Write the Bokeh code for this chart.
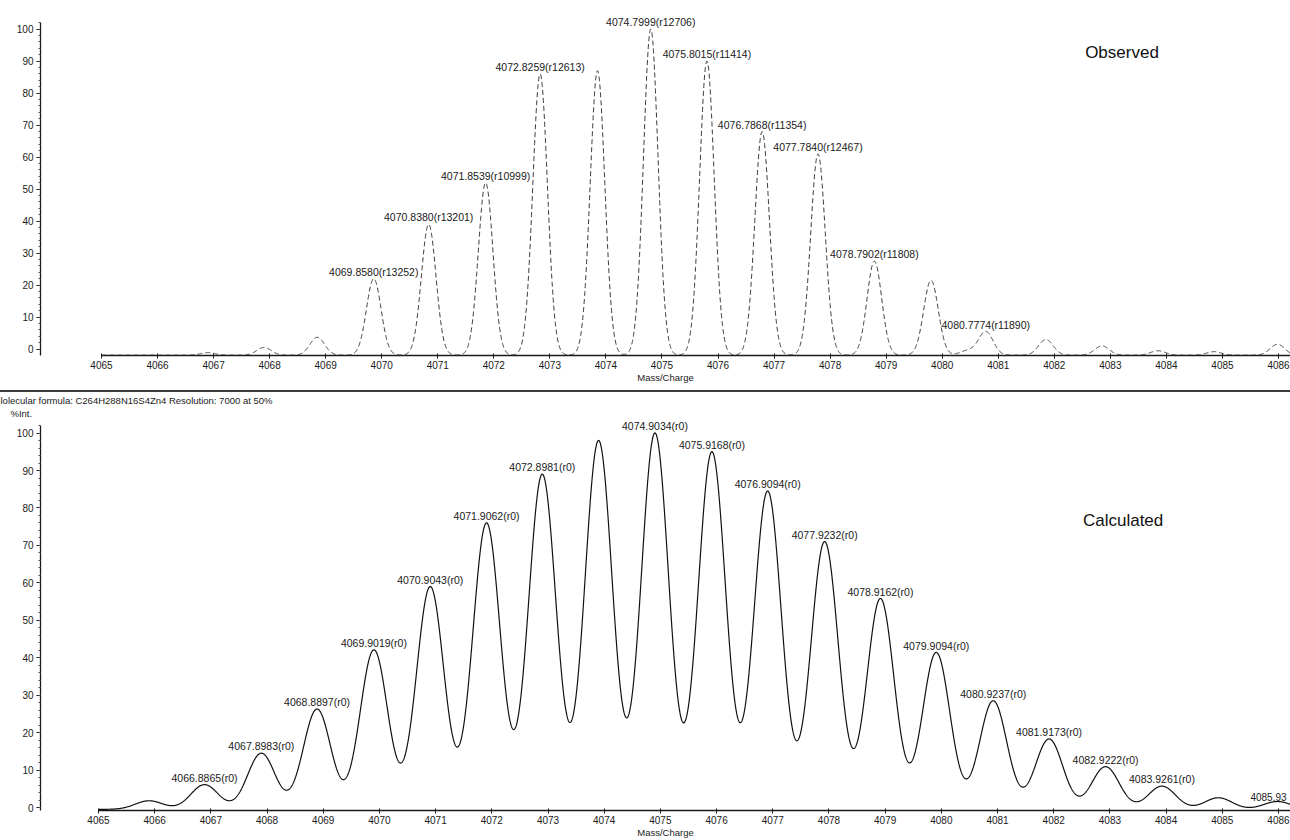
import numpy as np
from bokeh.plotting import figure
from bokeh.models import ColumnDataSource, FixedTicker, Range1d, Title, Div
from bokeh.layouts import column
from bokeh.core.properties import value
from bokeh.embed import file_html
from bokeh.resources import INLINE

# ---------------- data ----------------
# Observed spectrum: peak centres (m/z) and apex intensities (%)
obs_centers = [4066.90, 4067.90, 4068.85, 4069.858, 4070.838, 4071.854, 4072.826,
               4073.85, 4074.800, 4075.802, 4076.787, 4077.784, 4078.790, 4079.80,
               4080.45, 4080.777, 4081.85, 4082.85, 4083.85, 4084.85, 4085.98]
obs_apex = [-1.1, 0.5, 3.7, 22.0, 39.0, 52.0, 86.0,
            87.0, 100.0, 90.0, 68.0, 61.0, 27.5, 21.5,
            -0.5, 5.5, 3.0, 1.0, -0.5, -0.8, 1.5]
obs_label_text = ["4069.8580(r13252)", "4070.8380(r13201)", "4071.8539(r10999)",
                  "4072.8259(r12613)", "4074.7999(r12706)", "4075.8015(r11414)",
                  "4076.7868(r11354)", "4077.7840(r12467)", "4078.7902(r11808)",
                  "4080.7774(r11890)"]
obs_label_x = [4069.858, 4070.838, 4071.854, 4072.826, 4074.800, 4075.802,
               4076.787, 4077.784, 4078.790, 4080.777]
obs_label_y = [22.0, 39.0, 52.0, 86.0, 100.0, 90.0, 68.0, 61.0, 27.5, 5.5]

# Calculated spectrum
calc_centers = [4065.90, 4066.8865, 4067.8983, 4068.8897, 4069.9019, 4070.9043,
                4071.9062, 4072.8981, 4073.90, 4074.9034, 4075.9168, 4076.9094,
                4077.9232, 4078.9162, 4079.9094, 4080.9237, 4081.9173, 4082.9222,
                4083.9261, 4084.93, 4085.98]
calc_apex = [1.8, 6.1, 14.5, 26.3, 42.1, 59.0,
             76.0, 89.0, 98.0, 100.0, 95.0, 84.5,
             71.0, 55.8, 41.4, 28.5, 18.3, 10.9,
             5.7, 2.6, 1.6]
calc_label_text = ["4066.8865(r0)", "4067.8983(r0)", "4068.8897(r0)", "4069.9019(r0)",
                   "4070.9043(r0)", "4071.9062(r0)", "4072.8981(r0)", "4074.9034(r0)",
                   "4075.9168(r0)", "4076.9094(r0)", "4077.9232(r0)", "4078.9162(r0)",
                   "4079.9094(r0)", "4080.9237(r0)", "4081.9173(r0)", "4082.9222(r0)",
                   "4083.9261(r0)"]
calc_label_x = [4066.8865, 4067.8983, 4068.8897, 4069.9019, 4070.9043, 4071.9062,
                4072.8981, 4074.9034, 4075.9168, 4076.9094, 4077.9232, 4078.9162,
                4079.9094, 4080.9237, 4081.9173, 4082.9222, 4083.9261]
calc_label_y = [6.1, 14.5, 26.3, 42.1, 59.0, 76.0, 89.0, 100.0, 95.0, 84.5, 71.0,
                55.8, 41.4, 28.5, 18.3, 10.9, 5.7]
edge_label_text = ["4085.93"]
edge_label_x = [4085.50]
edge_label_y = [1.6]

x_ticks = list(range(4065, 4087))
y_ticks = list(range(0, 101, 10))
y_minor = list(range(0, 103, 2))

header_text = "lolecular formula: C264H288N16S4Zn4  Resolution: 7000 at 50%"
yunit_text = "%Int."

OBS_BASE = -1.9
CALC_BASE = -0.5
OBS_SIGMA = 0.13
CALC_SIGMA = 0.245

FONT = "Liberation Sans"
INK = "#1a1a1a"
W = 1290


def profile(centers, apex, base, sigma, x):
    y = np.full_like(x, base)
    for c, a in zip(centers, apex):
        y = y + (a - base) * np.exp(-0.5 * ((x - c) / sigma) ** 2)
    return y


def make_fig(height, xr, yr, ytop, top, bottom):
    p = figure(width=W, height=height, x_range=Range1d(*xr), y_range=Range1d(*yr),
               output_backend="svg", toolbar_location=None,
               min_border_left=40, min_border_right=0,
               min_border_top=top, min_border_bottom=bottom)
    p.outline_line_color = None
    p.grid.visible = False
    p.background_fill_color = "white"
    p.border_fill_color = "white"

    xa = p.xaxis[0]
    xa.ticker = FixedTicker(ticks=x_ticks, minor_ticks=[])
    xa.bounds = (4065, xr[1])
    xa.axis_line_color = INK
    xa.axis_line_width = 1.3
    xa.major_tick_in = 2
    xa.major_tick_out = 3
    xa.major_tick_line_color = INK
    xa.major_label_standoff = 2
    xa.major_label_text_font = FONT
    xa.major_label_text_font_size = "10px"
    xa.major_label_text_color = INK
    xa.axis_label = "Mass/Charge"
    xa.axis_label_text_font = FONT
    xa.axis_label_text_font_size = "9.5px"
    xa.axis_label_text_font_style = "normal"
    xa.axis_label_text_color = INK
    xa.axis_label_standoff = 0

    ya = p.yaxis[0]
    ya.ticker = FixedTicker(ticks=y_ticks, minor_ticks=y_minor)
    ya.bounds = (yr[0], ytop)
    ya.axis_line_color = INK
    ya.axis_line_width = 1.3
    ya.major_tick_in = 0
    ya.major_tick_out = 4
    ya.major_tick_line_color = INK
    ya.minor_tick_in = 0
    ya.minor_tick_out = 2
    ya.minor_tick_line_color = "#555555"
    ya.major_label_standoff = 3
    ya.major_label_text_font = FONT
    ya.major_label_text_font_size = "10px"
    ya.major_label_text_color = INK
    return p


# ---------------- top panel: observed ----------------
top_xr = (4063.912, 4086.214)
top = make_fig(390, top_xr, (-2.0, 105.5), 102.0, 11, 35)
x_obs = np.arange(4065.0, top_xr[1], 0.004)
y_obs = profile(obs_centers, obs_apex, OBS_BASE, OBS_SIGMA, x_obs)
top.line(x_obs, y_obs, line_color="#3a3a3a", line_width=1, line_dash="5 3")
top.text(x="x", y="y", text="t",
         source=ColumnDataSource(dict(x=obs_label_x, y=obs_label_y, t=obs_label_text)),
         text_font=value(FONT), text_font_size="10.5px", text_color=INK,
         text_align="center", text_baseline="bottom", y_offset=-1)
top.text(x=[4082.55], y=[92.8], text=["Observed"], text_font=value(FONT),
         text_font_size="17px", text_color="#111111",
         text_align="left", text_baseline="middle")

# ---------------- separator ----------------
sep = Div(text="", width=W, height=2, margin=0,
          styles={"background-color": "#3c3c3c"})

# ---------------- bottom panel: calculated ----------------
bot_xr = (4063.968, 4086.214)
bot = make_fig(448, bot_xr, (-0.8, 103.9), 102.0, 22, 28)
x_calc = np.arange(4065.0, bot_xr[1], 0.004)
y_calc = profile(calc_centers, calc_apex, CALC_BASE, CALC_SIGMA, x_calc)
bot.line(x_calc, y_calc, line_color="#111111", line_width=1.2)
bot.text(x="x", y="y", text="t",
         source=ColumnDataSource(dict(x=calc_label_x, y=calc_label_y, t=calc_label_text)),
         text_font=value(FONT), text_font_size="10.5px", text_color=INK,
         text_align="center", text_baseline="bottom", y_offset=-1)
bot.text(x=edge_label_x, y=edge_label_y, text=edge_label_text, text_font=value(FONT),
         text_font_size="10px", text_color=INK, text_align="left",
         text_baseline="bottom", y_offset=-1)
bot.text(x=[4082.52], y=[76.6], text=["Calculated"], text_font=value(FONT),
         text_font_size="17px", text_color="#111111",
         text_align="left", text_baseline="middle")

bot.title.text = header_text
bot.title.text_font = FONT
bot.title.text_font_size = "9.5px"
bot.title.text_font_style = "normal"
bot.title.text_color = INK
bot.title.align = "left"
bot.title.offset = -40
bot.title.standoff = 0

unit_title = Title(text=yunit_text, text_font=FONT, text_font_size="9.5px",
                   text_font_style="normal", text_color=INK, align="left",
                   offset=-30, standoff=0)
bot.add_layout(unit_title, "above")

layout = column(top, sep, bot, spacing=0)

open("out.html", "w").write(file_html(layout, INLINE))
